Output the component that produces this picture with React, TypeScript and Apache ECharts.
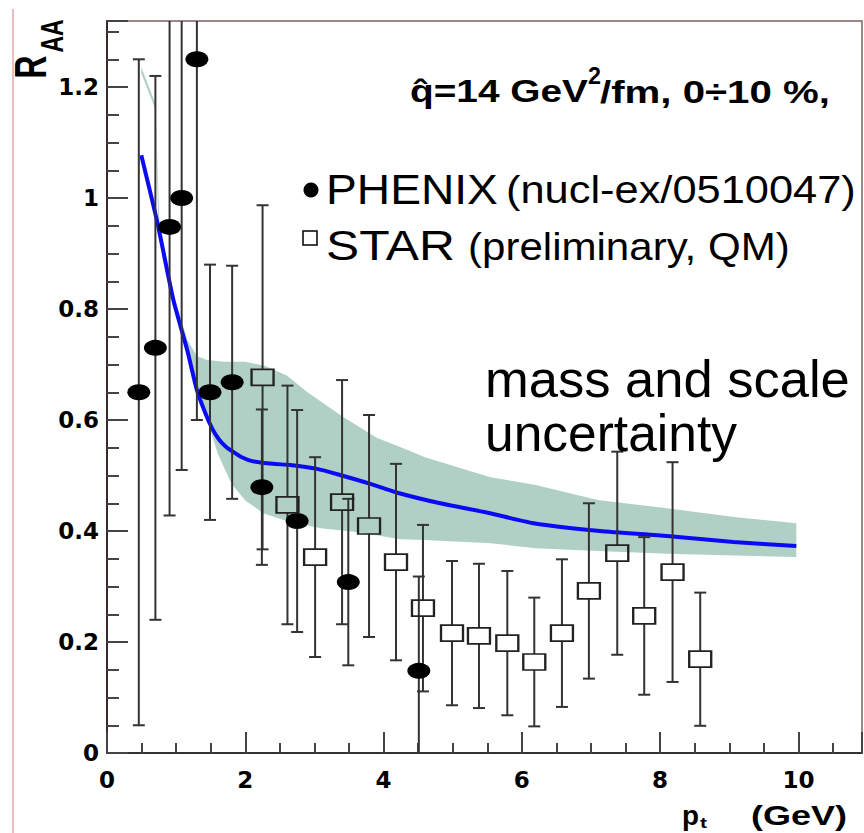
import React, { useEffect, useRef } from "react";
import * as echarts from "echarts";

// ---- data ----
const phenixX = [0.46, 0.70, 0.905, 1.08, 1.30, 1.49, 1.81, 2.24, 2.75, 3.49, 4.51];
const phenixY = [0.65, 0.73, 0.948, 1.0, 1.25, 0.65, 0.668, 0.479, 0.418, 0.308, 0.148];
const phenixErr = [0.60, 0.49, 0.52, 0.49, 0.65, 0.23, 0.21, 0.14, 0.20, 0.15, 0.17];

const starX = [2.25, 2.61, 3.01, 3.40, 3.79, 4.18, 4.57, 4.99, 5.38, 5.79, 6.18, 6.58, 6.97, 7.38, 7.77, 8.18, 8.58];
const starY = [0.677, 0.447, 0.353, 0.452, 0.409, 0.344, 0.261, 0.216, 0.211, 0.198, 0.164, 0.216, 0.292, 0.36, 0.247, 0.326, 0.169];
const starErr = [0.31, 0.215, 0.18, 0.22, 0.20, 0.177, 0.15, 0.13, 0.13, 0.13, 0.116, 0.133, 0.158, 0.183, 0.142, 0.198, 0.12];

const curveX = [0.496, 0.73, 0.96, 1.16, 1.3, 1.42, 1.52, 1.62, 1.72, 1.82, 1.95, 2.1, 2.4, 2.65, 3.04, 3.37, 3.81, 4.2, 4.82, 5.54, 6.17, 7.13, 8.1, 9.06, 9.97];
const curveY = [1.077, 0.955, 0.816, 0.726, 0.654, 0.613, 0.585, 0.565, 0.552, 0.543, 0.533, 0.526, 0.521, 0.519, 0.512, 0.501, 0.485, 0.469, 0.45, 0.432, 0.414, 0.40, 0.391, 0.38, 0.373];

const bandUpperX = [0.496, 0.70, 0.76, 0.96, 1.16, 1.3, 1.45, 1.7, 2.0, 2.3, 2.6, 2.9, 3.4, 3.9, 4.25, 4.6, 5.2, 5.55, 6.2, 7.1, 8.1, 9.1, 9.97];
const bandUpperY = [1.236, 1.17, 0.95, 0.83, 0.745, 0.715, 0.708, 0.705, 0.705, 0.697, 0.68, 0.65, 0.607, 0.568, 0.551, 0.533, 0.51, 0.497, 0.483, 0.456, 0.441, 0.425, 0.414];
const bandLowerX = [0.496, 0.70, 0.745, 0.96, 1.16, 1.3, 1.45, 1.6, 1.8, 2.0, 2.26, 2.65, 3.1, 3.6, 4.25, 4.6, 5.55, 6.2, 7.1, 8.1, 9.1, 9.97];
const bandLowerY = [1.225, 1.16, 0.945, 0.81, 0.72, 0.65, 0.60, 0.54, 0.485, 0.455, 0.432, 0.416, 0.405, 0.398, 0.385, 0.384, 0.378, 0.369, 0.364, 0.359, 0.356, 0.353];

const xTicks = { min: 0, max: 10.92, interval: 2 };
const yTicks = { min: 0, max: 1.319, interval: 0.2 };

const SANS = "Liberation Sans";

// measure text exactly as an SVG <text> renders it
function measure(text: string, size: number, weight: string): number {
  const ns = "http://www.w3.org/2000/svg";
  const svg = document.createElementNS(ns, "svg");
  svg.setAttribute("width", "10");
  svg.setAttribute("height", "10");
  svg.style.position = "absolute";
  svg.style.left = "-9999px";
  const t = document.createElementNS(ns, "text");
  t.setAttribute("x", "0");
  t.setAttribute("y", "50");
  t.setAttribute("style", `font: ${weight} ${size}px "${SANS}"; white-space: pre;`);
  t.textContent = text;
  svg.appendChild(t);
  document.body.appendChild(svg);
  let w = 0;
  try {
    w = (t as any).getComputedTextLength();
  } catch (e) {
    w = 0;
  }
  document.body.removeChild(svg);
  if (!w) {
    const ctx = document.createElement("canvas").getContext("2d") as CanvasRenderingContext2D;
    ctx.font = `${weight} ${size}px "${SANS}"`;
    w = ctx.measureText(text).width;
  }
  return w || 1;
}

function fitText(text: string, x: number, cy: number, width: number, size: number, weight: string) {
  const w = measure(text, size, weight);
  return {
    type: "text",
    x,
    y: cy,
    scaleX: width / w,
    z: 100,
    style: {
      text,
      fontSize: size,
      fontWeight: weight,
      fontFamily: SANS,
      fill: "#000",
      textAlign: "left",
      textVerticalAlign: "middle",
      align: "left",
      verticalAlign: "middle",
    },
  };
}

function rotText(text: string, cx: number, cy: number, size: number, squash: number) {
  return {
    type: "text",
    x: cx,
    y: cy,
    rotation: Math.PI / 2,
    scaleX: squash,
    z: 100,
    style: {
      text,
      fontSize: size,
      fontWeight: "bold",
      fontFamily: SANS,
      fill: "#000",
      textAlign: "center",
      textVerticalAlign: "middle",
      align: "center",
      verticalAlign: "middle",
    },
  };
}

export default function App() {
  const ref = useRef<HTMLDivElement>(null);

  useEffect(() => {
    if (!ref.current) return;
    const chart = echarts.init(ref.current, null, { renderer: "svg" });

    const yMax = yTicks.max;
    const errRender = (gap: number) => (params: any, api: any) => {
      const x = api.value(0);
      const y = api.value(1);
      const e = api.value(2);
      const hi = Math.min(y + e, yMax);
      const lo = Math.max(y - e, 0);
      const c = api.coord([x, y]);
      const pt = api.coord([x, hi]);
      const pb = api.coord([x, lo]);
      const st = { stroke: "#333", lineWidth: 2 };
      const children: any[] = [];
      if (pt[1] < c[1] - gap) children.push({ type: "line", shape: { x1: c[0], y1: c[1] - gap, x2: c[0], y2: pt[1] }, style: st });
      if (pb[1] > c[1] + gap) children.push({ type: "line", shape: { x1: c[0], y1: c[1] + gap, x2: c[0], y2: pb[1] }, style: st });
      if (y + e <= yMax) children.push({ type: "line", shape: { x1: c[0] - 6, y1: pt[1], x2: c[0] + 6, y2: pt[1] }, style: st });
      if (y - e >= 0) children.push({ type: "line", shape: { x1: c[0] - 6, y1: pb[1], x2: c[0] + 6, y2: pb[1] }, style: st });
      return { type: "group", children };
    };

    const labelStyle = { fontFamily: "DejaVu Sans", fontWeight: "bold", fontSize: 23, color: "#000" };

    const option: any = {
      animation: false,
      backgroundColor: "#fff",
      grid: { left: 107, right: 2, top: 21, bottom: 80, show: true, borderColor: "#7a6262", borderWidth: 1.5 },
      xAxis: {
        type: "value",
        ...xTicks,
        axisLine: { show: true, onZero: false, lineStyle: { color: "#333", width: 2 } },
        axisTick: { show: true, inside: true, length: 21, lineStyle: { color: "#444", width: 2 } },
        minorTick: { show: true, splitNumber: 4, length: 10, lineStyle: { color: "#444", width: 2 } },
        splitLine: { show: false },
        axisLabel: { ...labelStyle, margin: 15, showMaxLabel: false },
      },
      yAxis: {
        type: "value",
        ...yTicks,
        axisLine: { show: true, onZero: false, lineStyle: { color: "#3a2a2a", width: 2 } },
        axisTick: { show: true, inside: true, length: 21, lineStyle: { color: "#444", width: 2 } },
        minorTick: { show: true, splitNumber: 4, length: 12, lineStyle: { color: "#444", width: 2 } },
        splitLine: { show: false },
        axisLabel: { ...labelStyle, margin: 8, showMaxLabel: false },
      },
      series: [
        {
          type: "custom",
          name: "band",
          data: [[0, 0]],
          z: 1,
          renderItem: (params: any, api: any) => {
            const pts: number[][] = [];
            bandUpperX.forEach((x, i) => pts.push(api.coord([x, bandUpperY[i]])));
            for (let i = bandLowerX.length - 1; i >= 0; i--) pts.push(api.coord([bandLowerX[i], bandLowerY[i]]));
            return { type: "polygon", shape: { points: pts }, style: { fill: "#b0d0c6" } };
          },
        },
        {
          type: "line",
          name: "model",
          z: 2,
          data: curveX.map((x, i) => [x, curveY[i]]),
          showSymbol: false,
          smooth: 0.2,
          lineStyle: { color: "#0a0af5", width: 4 },
        },
        {
          type: "custom",
          name: "phenixErr",
          z: 3,
          data: phenixX.map((x, i) => [x, phenixY[i], phenixErr[i]]),
          renderItem: errRender(0),
        },
        {
          type: "custom",
          name: "starErr",
          z: 3,
          data: starX.map((x, i) => [x, starY[i], starErr[i]]),
          renderItem: errRender(8),
        },
        {
          type: "scatter",
          name: "PHENIX",
          z: 4,
          data: phenixX.map((x, i) => [x, phenixY[i]]),
          symbol: "circle",
          symbolSize: [23, 16],
          itemStyle: { color: "#000", opacity: 1 },
        },
        {
          type: "scatter",
          name: "STAR",
          z: 4,
          data: starX.map((x, i) => [x, starY[i]]),
          symbol: "rect",
          symbolSize: [22, 16],
          itemStyle: { color: "rgba(0,0,0,0)", borderColor: "#222", borderWidth: 2, opacity: 1 },
        },
      ],
      graphic: [
        { type: "line", shape: { x1: 13, y1: 9, x2: 13, y2: 833 }, style: { stroke: "#e4a8a8", lineWidth: 1.5 }, z: 50 },
        fitText("q\u0302=14 GeV", 410, 91.5, 178, 32, "bold"),
        fitText("2", 588, 76.5, 13, 23, "bold"),
        fitText("/fm, 0\u00f710 %,", 600, 91.5, 230, 32, "bold"),
        { type: "circle", shape: { cx: 311, cy: 190, r: 7.5 }, style: { fill: "#000" }, z: 100 },
        fitText("PHENIX", 326, 188.6, 172, 43, "normal"),
        fitText("(nucl-ex/0510047)", 506, 190, 350, 39, "normal"),
        { type: "rect", shape: { x: 303, y: 231, width: 14, height: 14 }, style: { fill: "none", stroke: "#000", lineWidth: 1.5 }, z: 100 },
        fitText("STAR", 326, 245.6, 129, 43, "normal"),
        fitText("(preliminary, QM)", 468, 247, 322, 39, "normal"),
        fitText("mass and scale", 485, 379, 365, 52, "normal"),
        fitText("uncertainty", 485, 433, 252, 52, "normal"),
        rotText("R", 31, 67, 44, 0.72),
        rotText("AA", 52, 36, 31, 0.74),
        fitText("p", 682, 815, 17, 28, "bold"),
        fitText("t", 700, 823, 7, 15, "bold"),
        fitText("(GeV)", 751, 815, 96, 28, "bold"),
      ],
    };

    chart.setOption(option);
    return () => chart.dispose();
  }, []);

  return (
    <div
      ref={ref}
      style={{ position: "fixed", left: 0, top: 0, width: 864, height: 833, background: "#fff" }}
    />
  );
}
